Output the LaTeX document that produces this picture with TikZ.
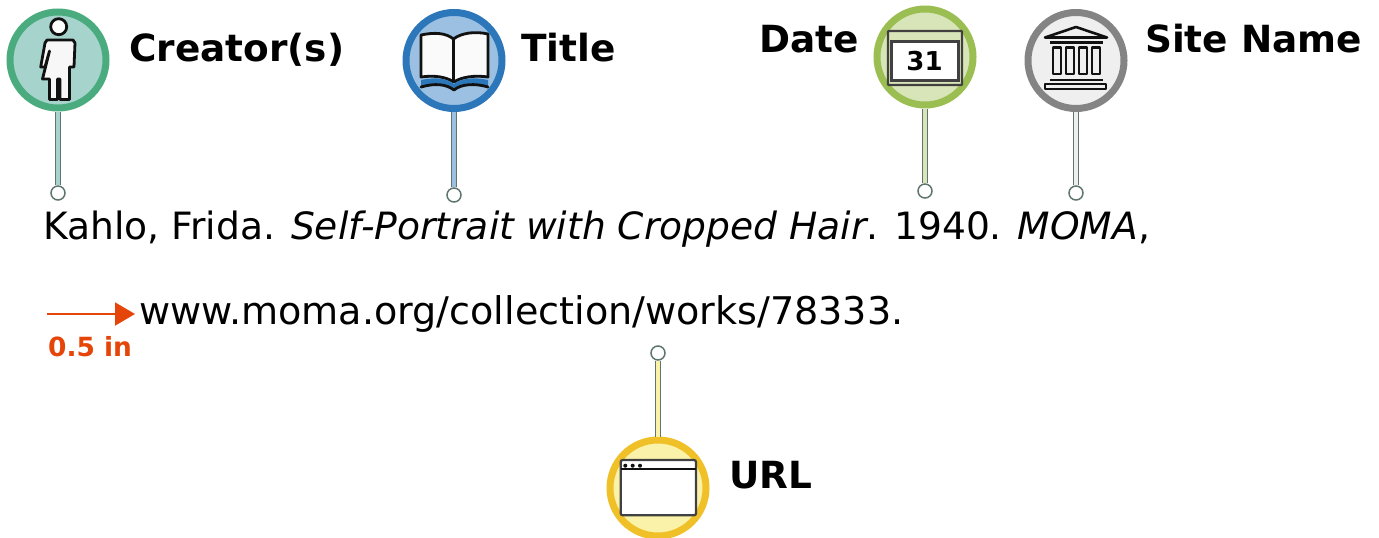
\documentclass[tikz,border=0pt]{standalone}
\usepackage{fontspec}
\setmainfont{DejaVu Sans}
\usetikzlibrary{arrows.meta}
\definecolor{stemline}{HTML}{5F7570}
\definecolor{ink}{HTML}{111111}
\definecolor{orangeR}{HTML}{E6450A}
\definecolor{greenR}{RGB}{74,172,126}
\definecolor{greenF}{RGB}{166,212,205}
\definecolor{blueR}{RGB}{44,118,186}
\definecolor{blueF}{RGB}{155,192,226}
\definecolor{limeR}{RGB}{155,190,82}
\definecolor{limeF}{RGB}{216,229,184}
\definecolor{grayR}{RGB}{132,132,132}
\definecolor{grayF}{RGB}{239,239,239}
\definecolor{yelR}{RGB}{239,192,40}
\definecolor{yelF}{RGB}{250,242,168}
\tikzset{
  x=1pt,y=-1pt,
  badge/.style={circle,inner sep=0pt,minimum size=96pt,line width=7pt},
  pin/.style={circle,draw=stemline,fill=white,line width=1.5pt,inner sep=0pt,minimum size=14pt},
  stem/.style={line width=1.7pt,draw=stemline,double=#1,double distance=3.4pt},
  heading/.style={anchor=base west,inner sep=0pt,font=\fontsize{37.4}{42}\selectfont\bfseries,text=black},
  bodytext/.style={anchor=base west,inner sep=0pt,text=black},
  icon/.style={draw=ink,line width=2.6pt,line join=round},
}
\begin{document}
\begin{tikzpicture}
\useasboundingbox (0,0) rectangle (1379,538);
\node[pin] (pc) at (58,193) {};
\node[pin] (pt) at (454,195) {};
\node[pin] (pd) at (925,191) {};
\node[pin] (ps) at (1076,193) {};
\node[pin] (pu) at (658,353) {};
\node[badge,draw=greenR,fill=greenF] (creator) at (58,60) {};
\node[badge,draw=blueR,fill=blueF] (title) at (454,60.5) {};
\node[badge,draw=limeR,fill=limeF] (date) at (925,57) {};
\node[badge,draw=grayR,fill=grayF] (site) at (1076,60.5) {};
\node[badge,draw=yelR,fill=yelF] (url) at (658,488) {};
\draw[stem=greenF] (creator.south) -- (pc.north);
\draw[stem=blueF] (title.south) -- (pt.north);
\draw[stem=limeF] (date.south) -- (pd.north);
\draw[stem=grayF] (site.south) -- (ps.north);
\draw[stem=yelF] (url.north) -- (pu.south);
% person icon
\draw[icon,line width=2.8pt,fill=white] (58.7,26.7) circle (8);
\draw[icon,line width=2.8pt,fill=white!97!black] (47,40) -- (73,40) -- (75,43) -- (74,67) -- (69.5,67) -- (69.5,99.5) -- (60,99.5) -- (60,79) -- (57.5,79) -- (57.5,99.5) -- (49.5,99.5) -- (49.5,79) -- (42.5,79) -- (49.5,51) -- (45,67) -- (40.7,67) -- (45,43) -- cycle;
% book icon
\draw[icon,line width=2.8pt,fill=white!98!black] (421,35) .. controls (435,32) and (446,33) .. (453.5,39) .. controls (461,33) and (475,31) .. (488,34) -- (488,77) .. controls (475,75) and (461,77) .. (454,82) .. controls (446,77) and (435,75) .. (421,77) -- cycle;
\draw[icon,line width=2.8pt] (453.5,39) -- (453.5,82);
\fill[blueR] (421,80) .. controls (435,77) and (446,78) .. (454,84) .. controls (461,78) and (475,77) .. (488,80) -- (488,86) .. controls (475,83) and (461,84) .. (454,90) .. controls (446,84) and (435,83) .. (421,86) -- cycle;
\draw[icon,line width=2.8pt,line cap=round] (421,87) .. controls (435,83) and (446,84) .. (454,90) .. controls (461,84) and (475,83) .. (488,87);
% calendar icon
\draw[draw=ink!80,line width=2.2pt,rounded corners=0.6pt,fill=limeF] (888,31) rectangle (962,85);
\draw[draw=ink!80,line width=2.2pt,fill=white] (891.5,41.5) rectangle (958.5,80.5);
\node[inner sep=0pt,font=\fontsize{26}{28}\selectfont\bfseries] (daynum) at (924.5,61) {31};
% museum icon
\draw[icon] (1045,37.5) -- (1076,27) -- (1107,37.5) -- cycle;
\draw[icon] (1050,42.5) -- (1103,42.5);
\foreach \xa in {1053,1066,1079,1092}
  \draw[icon,fill=grayF] (\xa,47.5) rectangle (\xa+8,74);
\draw[icon] (1050,80) -- (1103,80);
\draw[icon,fill=grayF] (1045,84) rectangle (1106,89);
% window icon
\draw[draw=ink!80,line width=2.2pt,rounded corners=2pt,fill=white] (620.7,460) rectangle (696,515.3);
\draw[ink,line width=2.2pt] (620.7,469.3) -- (696,469.3);
\foreach \xa in {625.3,632.7,640}
  \fill[ink] (\xa,465.7) circle (2);
% headings
\node[heading] (lc) at (129,61) {Creator(s)};
\node[heading] (lt) at (521,61) {Title};
\node[heading] (ld) at (759,52.5) {Date};
\node[heading] (ls) at (1145,52) {Site Name};
\node[heading] (lu) at (729,488) {URL};
% citation
\node[bodytext,font=\fontsize{37.6}{42}\selectfont] (line1) at (43,239) {Kahlo, Frida. \textit{Self-Portrait with Cropped Hair}. 1940. \textit{MOMA},};
\node[bodytext,font=\fontsize{38.1}{42}\selectfont] (line2) at (139,324) {www.moma.org/collection/works/78333.};
% indent arrow
\coordinate (a1) at (46.7,314);
\coordinate (a2) at (135,314);
\draw[orangeR,line width=2pt,-{Triangle[length=20pt,width=23pt]}] (a1) -- (a2);
\node[anchor=base west,inner sep=0pt,text=orangeR,font=\fontsize{26.4}{28}\selectfont\bfseries] (inch) at (48,356.5) {0.5 in};
\end{tikzpicture}
\end{document}
